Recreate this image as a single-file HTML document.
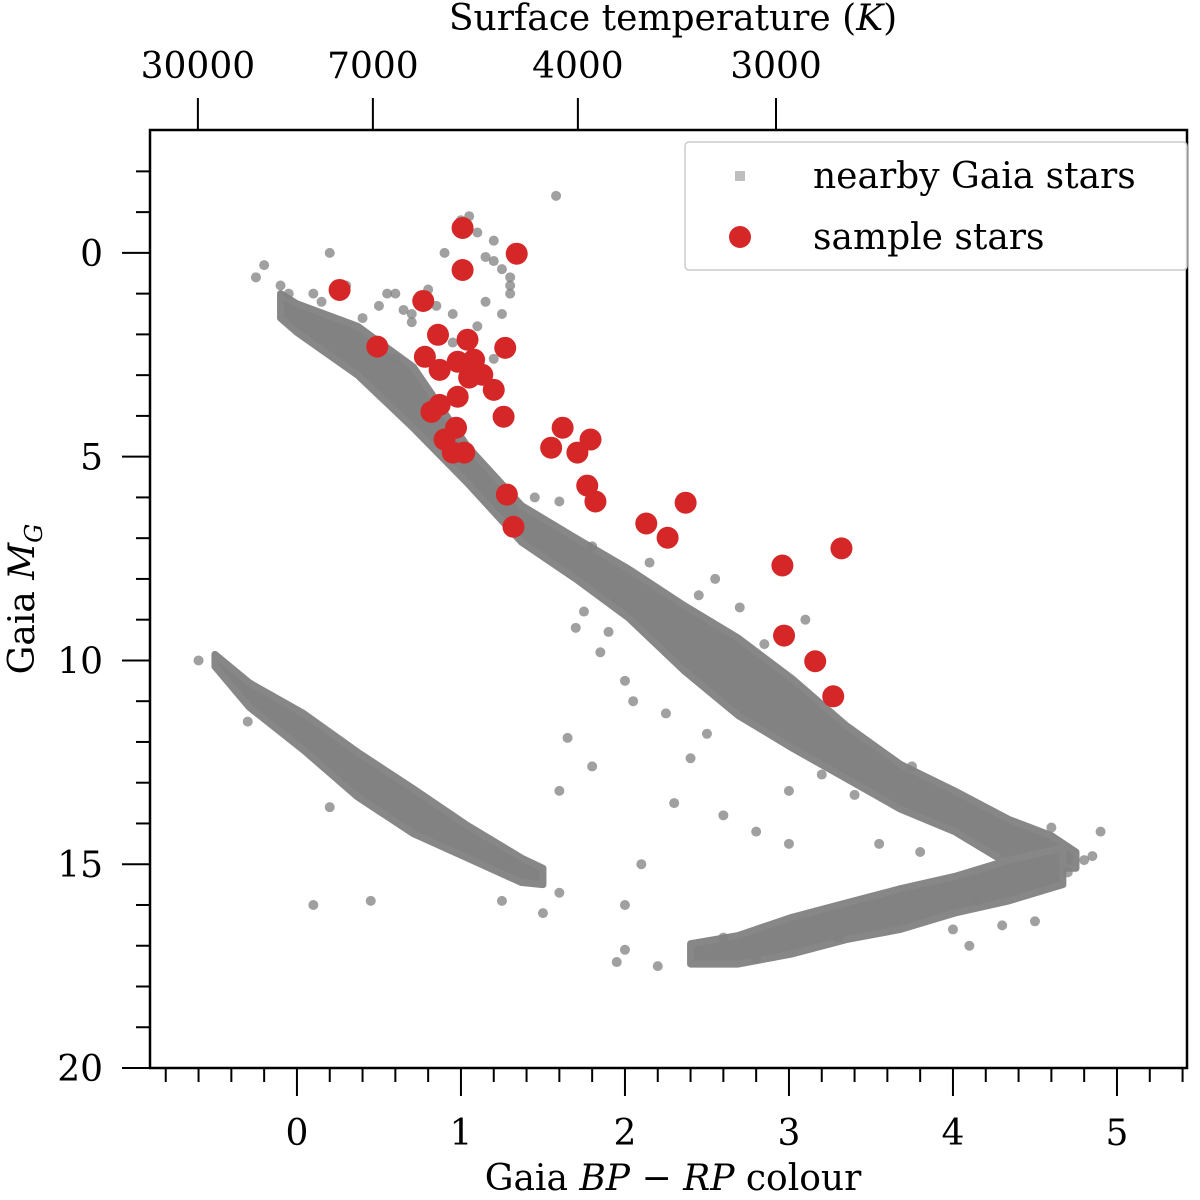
<!DOCTYPE html>
<html><head><meta charset="utf-8">
<style>
html,body{margin:0;padding:0;background:#fff;}
svg text{font-family:"DejaVu Serif","Liberation Serif",serif;fill:#000;}
</style></head>
<body>
<svg id="chart" width="1200" height="1195" viewBox="0 0 1200 1195" xmlns="http://www.w3.org/2000/svg">
<g id="bands"></g>
<g id="gray"></g>
<g id="red"></g>
<g id="axes"></g>
<g>
<rect x="685" y="142" width="502" height="128" rx="4" fill="#fff" fill-opacity="0.85" stroke="#ccc" stroke-width="1.5"/>
<rect x="735" y="171" width="10" height="10" fill="#808080" fill-opacity="0.5"/>
<text x="813" y="188" font-size="36">nearby Gaia stars</text>
<circle cx="740" cy="237" r="11" fill="#d62728"/>
<text x="813" y="249" font-size="36">sample stars</text>
</g>
<text x="673" y="30" font-size="36" text-anchor="middle">Surface temperature (<tspan font-style="italic">K</tspan>)</text>
<text x="673" y="1190" font-size="36" text-anchor="middle">Gaia <tspan font-style="italic">BP</tspan> − <tspan font-style="italic">RP</tspan> colour</text>
<text transform="translate(34,599) rotate(-90)" font-size="36" text-anchor="middle">Gaia <tspan font-style="italic">M</tspan><tspan font-style="italic" font-size="24" dy="8">G</tspan></text>
</svg>
<script>
const xTicks=[0,1,2,3,4,5];
const yTicks=[0,5,10,15,20];
const topTickColors=[-0.604,0.463,1.713,2.921];
const topTickLabels=["30000","7000","4000","3000"];
const msColor=[-0.1,0.0,0.37,0.71,1.04,1.37,1.70,2.02,2.36,2.69,3.02,3.35,3.68,4.01,4.34,4.6,4.75];
const msMag=[1.3,1.6,2.4,3.55,5.2,6.65,7.5,8.35,9.45,10.4,11.3,12.25,13.1,13.7,14.45,14.7,14.9];
const msHalf=[0.3,0.35,0.6,0.75,0.45,0.45,0.5,0.6,0.8,0.95,0.85,0.65,0.55,0.5,0.55,0.4,0.2];
const lowColor=[2.4,2.69,3.02,3.35,3.68,4.01,4.34,4.67];
const lowMag=[17.2,17.1,16.75,16.4,16.1,15.75,15.4,15.05];
const lowHalf=[0.25,0.35,0.45,0.45,0.5,0.45,0.5,0.45];
const wdColor=[-0.5,-0.29,0.04,0.37,0.71,1.04,1.37,1.5];
const wdMag=[10.0,10.85,11.75,12.8,13.7,14.45,15.15,15.3];
const wdHalf=[0.15,0.3,0.45,0.55,0.55,0.4,0.3,0.2];
const grayColor=[1.58,1.0,1.1,0.9,1.2,1.3,1.0,0.8,0.6,1.15,1.3,0.95,0.7,1.1,0.5,-0.2,0.2,-0.1,0.1,0.3,1.2,1.05,0.85,1.8,1.7,1.85,2.0,1.65,1.8,1.6,2.3,2.6,2.8,3.0,3.2,3.4,2.1,2.0,1.6,1.5,1.25,0.1,0.45,1.95,2.2,2.0,4.9,4.8,4.0,4.3,4.1,3.0,2.4,2.5,1.95,2.7,3.1,4.7,4.6,-0.3,-0.6,0.2,1.3,2.6,2.8,3.3,1.25,1.3,1.15,1.25,0.4,0.55,0.65,1.45,1.6,2.15,2.55,1.9,2.05,2.25,3.55,3.8,4.15,4.5,4.85,3.75,2.85,-0.05,-0.25,0.15,0.6,0.95,1.2,0.7,1.75,2.45];
const grayMag=[-1.4,-0.8,-0.5,0,0.2,0.6,0.4,0.9,1.0,1.2,1.0,1.5,1.7,1.8,1.3,0.3,0.0,0.8,1.0,0.8,-0.3,-0.9,1.3,7.2,9.2,9.8,10.5,11.9,12.6,13.2,13.5,13.8,14.2,14.5,12.8,13.3,15.0,16.0,15.7,16.2,15.9,16.0,15.9,17.4,17.5,17.1,14.2,14.9,16.6,16.5,17.0,13.2,12.4,11.8,8.5,8.7,9.0,15.2,14.1,11.5,10.0,13.6,14.9,16.8,17.3,16.8,0.4,0.8,0.1,1.5,1.6,1.0,1.4,6.0,6.1,7.6,8.0,9.3,11.0,11.3,14.5,14.7,15.9,16.4,14.8,12.6,9.6,1.0,0.6,1.2,2.6,2.2,2.6,1.5,8.8,8.4];
const redColor=[1.01,1.01,1.34,0.26,0.77,0.49,0.86,1.04,1.27,0.78,0.87,0.98,1.08,1.05,1.13,1.20,0.98,0.87,0.82,1.26,0.97,0.90,0.95,1.02,1.62,1.79,1.55,1.71,1.77,1.82,1.28,1.32,2.13,2.26,2.37,2.96,3.32,2.97,3.16,3.27];
const redMag=[-0.61,0.42,0.02,0.91,1.18,2.30,2.01,2.13,2.33,2.55,2.87,2.67,2.62,3.06,2.99,3.36,3.53,3.73,3.90,4.02,4.29,4.58,4.90,4.90,4.29,4.58,4.78,4.90,5.71,6.10,5.93,6.72,6.64,6.99,6.13,7.67,7.25,9.39,10.02,10.88];

const L=150,R=1187,T=130,B=1068;
const cMin=-0.896,cMax=5.427,mMin=-3.015,mMax=20;
const sx=c=>L+(c-cMin)/(cMax-cMin)*(R-L);
const sy=m=>T+(m-mMin)/(mMax-mMin)*(B-T);
const NS="http://www.w3.org/2000/svg";
function mk(tag,attrs,parent){const e=document.createElementNS(NS,tag);for(const k in attrs)e.setAttribute(k,attrs[k]);parent.appendChild(e);return e;}

const bands=document.getElementById('bands');
function band(cs,ms,hs,name){
  let up=cs.map((c,i)=>sx(c)+','+sy(ms[i]-hs[i]));
  let lo=cs.map((c,i)=>sx(c)+','+sy(ms[i]+hs[i])).reverse();
  const p=mk('polygon',{points:up.concat(lo).join(' '),fill:'#828282','stroke':'#878787','stroke-width':'7','stroke-linejoin':'round'},bands);
  
  
}
band(msColor,msMag,msHalf,'main-sequence-band');
band(lowColor,lowMag,lowHalf,'lower-sequence-band');
band(wdColor,wdMag,wdHalf,'white-dwarf-band');

const gray=document.getElementById('gray');
grayColor.forEach((c,i)=>{
  const e=mk('circle',{cx:sx(c),cy:sy(grayMag[i]),r:5,fill:'#808080','fill-opacity':0.75},gray);
  
  
});
const red=document.getElementById('red');
redColor.forEach((c,i)=>{
  const e=mk('circle',{cx:sx(c),cy:sy(redMag[i]),r:11,fill:'#d62728'},red);
  
  
});

const ax=document.getElementById('axes');
const fr=mk('rect',{x:L,y:T,width:R-L,height:B-T,fill:'none',stroke:'#000','stroke-width':2.5},ax);


for(let k=-4;k<=27;k++){const c=k*0.2;const x=sx(c);if(x<L||x>R)continue;
  const major=Math.abs(c-Math.round(c))<1e-6;
  const t=mk('line',{x1:x,x2:x,y1:B,y2:B+(major?28:14),stroke:'#000','stroke-width':2},ax);
  
  }
xTicks.forEach(v=>{const t=mk('text',{x:sx(v),y:1145,'font-size':36,'text-anchor':'middle'},ax);t.textContent=v;
  
  });
for(let m=-2;m<=20;m++){const y=sy(m);const major=m%5===0;
  const t=mk('line',{x1:L-(major?28:14),x2:L,y1:y,y2:y,stroke:'#000','stroke-width':2},ax);
  
  }
yTicks.forEach(v=>{const t=mk('text',{x:103,y:sy(v)+13,'font-size':36,'text-anchor':'end'},ax);t.textContent=v;
  
  });
topTickColors.forEach((c,i)=>{const x=sx(c);
  const t=mk('line',{x1:x,x2:x,y1:T,y2:T-32,stroke:'#000','stroke-width':2},ax);
  
  
  const l=mk('text',{x:x,y:78,'font-size':36,'text-anchor':'middle'},ax);l.textContent=topTickLabels[i];
  
  });
</script>
</body></html>
